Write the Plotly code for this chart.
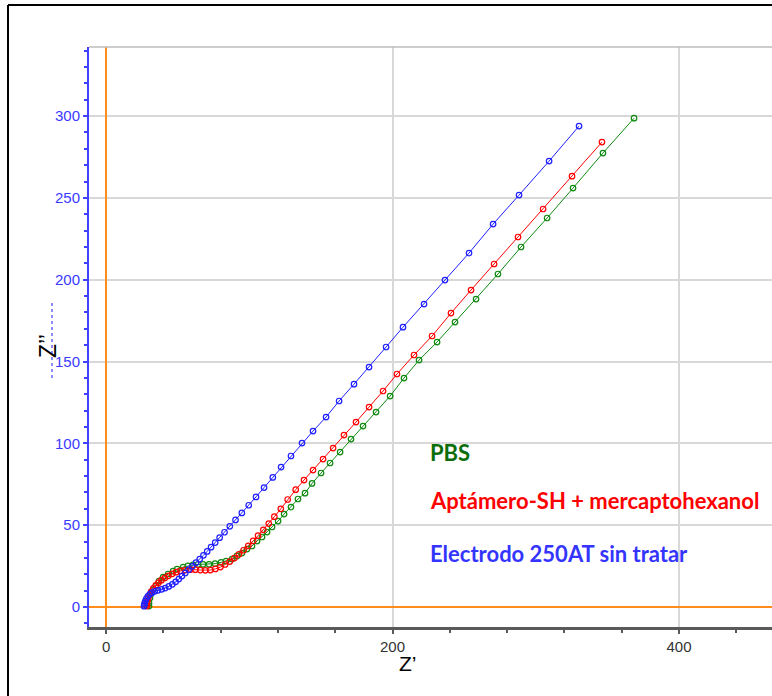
import plotly.graph_objects as go

# Electrodo 250AT sin tratar (blue)
blue_x = [26.5, 26.8, 27.0, 27.5, 28.2, 29.2, 30.5, 32.0, 34.0, 36.3, 38.8, 41.3, 43.8, 46.3, 48.6,
          50.8, 53.0, 55.3, 57.7, 60.2, 62.8, 65.4, 68.0, 70.6, 73.3, 76.2, 79.3, 82.7, 86.4, 90.4,
          94.8, 99.6, 104.7, 110.3, 116.4, 122.2, 129.1, 136.8, 144.5, 153.6, 162.7, 173.1, 183.6,
          195.5, 207.3, 222.0, 236.6, 253.4, 270.2, 288.3, 309.3, 330.2]
blue_y = [0.5, 1.5, 2.6, 3.8, 5.2, 6.6, 7.8, 8.8, 9.6, 10.2, 10.8, 11.6, 12.6, 13.9, 15.4,
          17.1, 18.9, 20.8, 22.8, 24.9, 27.1, 29.3, 31.6, 34.0, 36.6, 39.4, 42.4, 45.7, 49.3, 53.2,
          57.5, 62.2, 67.3, 73.0, 79.2, 85.5, 92.3, 100.2, 107.5, 116.1, 125.9, 136.2, 146.6,
          158.9, 171.0, 185.1, 199.8, 216.3, 234.0, 251.7, 272.5, 293.9]

# Aptámero-SH + mercaptohexanol (red)
red_x = [28.5, 28.5, 28.9, 29.5, 30.4, 31.5, 33.0, 34.7, 36.6, 38.7, 41.0, 43.5, 46.2, 49.0, 52.0,
         55.3, 58.8, 62.3, 65.8, 69.3, 72.8, 76.3, 79.8, 83.1, 86.4, 89.6, 92.8, 96.0, 99.3, 102.7,
         106.1, 109.8, 113.6, 117.5, 122.0, 126.8, 132.4, 138.2, 144.5, 151.5, 158.5, 166.1, 174.5,
         183.6, 193.4, 203.1, 215.0, 227.6, 240.8, 254.8, 270.9, 287.6, 305.1, 325.3, 346.2]
red_y = [0.6, 1.8, 3.5, 5.5, 7.5, 9.5, 11.4, 13.2, 14.9, 16.4, 17.8, 19.1, 20.3, 21.3, 22.1,
         22.6, 22.8, 22.8, 22.6, 22.4, 22.6, 23.3, 24.4, 26.0, 27.8, 29.9, 32.2, 34.7, 37.4, 40.4,
         43.6, 47.2, 51.0, 55.2, 60.0, 65.7, 71.7, 77.6, 83.7, 90.4, 97.1, 105.1, 113.0,
         122.2, 132.0, 142.4, 154.0, 165.6, 179.6, 193.7, 209.6, 226.1, 243.2, 263.3, 284.1]

# PBS (green)
green_x = [30.0, 30.0, 30.7, 31.4, 32.8, 34.9, 37.0, 39.8, 43.3, 46.8, 49.6, 53.8, 57.2, 60.7, 64.2,
           67.7, 71.9, 76.1, 80.3, 83.8, 88.0, 91.4, 94.9, 98.4, 101.9, 105.4, 108.9, 112.4, 115.9,
           120.1, 124.3, 129.1, 134.0, 138.9, 143.8, 150.1, 156.4, 163.4, 171.0, 179.4, 188.5, 198.3,
           208.0, 218.5, 231.1, 243.6, 258.3, 273.6, 289.7, 307.9, 326.0, 346.9, 368.6]
green_y = [0.6, 2.4, 5.5, 7.9, 10.4, 12.8, 15.9, 18.3, 20.2, 22.0, 23.2, 24.4, 25.2, 25.7, 26.0,
           26.1, 26.1, 26.5, 27.3, 28.1, 29.3, 31.2, 33.0, 35.4, 37.3, 40.3, 42.8, 45.8, 48.9,
           52.5, 56.8, 61.1, 66.0, 69.6, 75.5, 81.9, 88.0, 94.7, 102.6, 110.6, 119.1, 128.9,
           139.9, 150.9, 161.9, 174.1, 188.2, 203.5, 220.0, 237.7, 256.0, 277.4, 298.7]

legend_labels = ["PBS", "Aptámero-SH + mercaptohexanol", "Electrodo 250AT sin tratar"]
x_title = "Z’"
y_title = "Z’’"

BLUE = "#1f1fff"
RED = "#ff0000"
GREEN = "#108a10"

fig = go.Figure()
for xs, ys, col in [(green_x, green_y, GREEN), (red_x, red_y, RED), (blue_x, blue_y, BLUE)]:
    fig.add_trace(go.Scatter(
        x=xs, y=ys, mode="lines+markers",
        line=dict(color=col, width=1),
        marker=dict(symbol="circle-open", size=5.5, color=col, line=dict(width=1.2, color=col)),
        showlegend=False, hoverinfo="skip"))

fig.update_layout(
    width=772, height=696,
    margin=dict(l=89, r=0, t=47, b=69),
    paper_bgcolor="white", plot_bgcolor="white",
    font=dict(family="Liberation Sans, Arial, sans-serif"),
    xaxis=dict(
        range=[-11.9, 464.9], tick0=0, dtick=200,
        showgrid=True, gridcolor="#d8d8d8", gridwidth=1.5,
        zeroline=True, zerolinecolor="#ff8c1a", zerolinewidth=1.5,
        showline=True, linecolor="#5a5a5a", linewidth=2.5,
        ticks="outside", ticklen=4, tickcolor="#5a5a5a", tickwidth=1.5,
        minor=dict(dtick=40, tick0=0, ticks="outside", ticklen=3, tickcolor="#5a5a5a", showgrid=False),
        tickfont=dict(size=15, color="#333333"),
    ),
    yaxis=dict(
        range=[-12.2, 342.2], tick0=0, dtick=50,
        showgrid=True, gridcolor="#d8d8d8", gridwidth=1.5,
        zeroline=True, zerolinecolor="#ff8c1a", zerolinewidth=1.5,
        showline=True, linecolor="#4040ff", linewidth=2,
        ticks="outside", ticklen=4, tickcolor="#4040ff", tickwidth=1.5,
        minor=dict(dtick=10, tick0=0, ticks="outside", ticklen=3, tickcolor="#4040ff", showgrid=False),
        tickfont=dict(size=15, color="#3a3aff"),
    ),
)

PW = 683.0
PH = 580.0
def px(x):
    return (x - 89) / PW
def py(y):
    return (627 - y) / PH

# top border of plot area and outer frame
fig.add_shape(type="line", xref="paper", yref="paper", x0=0, x1=1, y0=1, y1=1,
              line=dict(color="#bdbdbd", width=1.5))
fig.add_shape(type="line", xref="paper", yref="paper", x0=px(8), x1=px(8), y0=py(700), y1=py(5),
              line=dict(color="black", width=2))
fig.add_shape(type="line", xref="paper", yref="paper", x0=px(8), x1=1.0, y0=py(5), y1=py(5),
              line=dict(color="black", width=2))
# faint dotted artifact left of y axis
fig.add_shape(type="line", xref="paper", yref="paper", x0=px(52), x1=px(52), y0=py(378), y1=py(300),
              line=dict(color="#4040ff", width=1.2, dash="dot"))

# axis titles
fig.add_annotation(text=y_title, xref="paper", yref="paper", x=px(33), y=py(346),
                   showarrow=False, textangle=-90, font=dict(size=23, color="black"))
fig.add_annotation(text=x_title, xref="paper", yref="paper", x=px(408), y=py(677),
                   showarrow=False, font=dict(size=21, color="black"))

# legend texts
for label, col, yy in zip(legend_labels, ["#0b6e0b", "#ff0000", "#3434ff"], [452, 500, 553]):
    fig.add_annotation(text="<b>" + label + "</b>", xref="paper", yref="paper", x=px(428), y=py(yy),
                       xanchor="left", yanchor="middle", showarrow=False,
                       font=dict(size=22, color=col, family="Lato, sans-serif"))

fig.write_html("out.html", config={"displayModeBar": False},
               post_script="document.body.style.margin='0';document.body.style.overflow='hidden';")
